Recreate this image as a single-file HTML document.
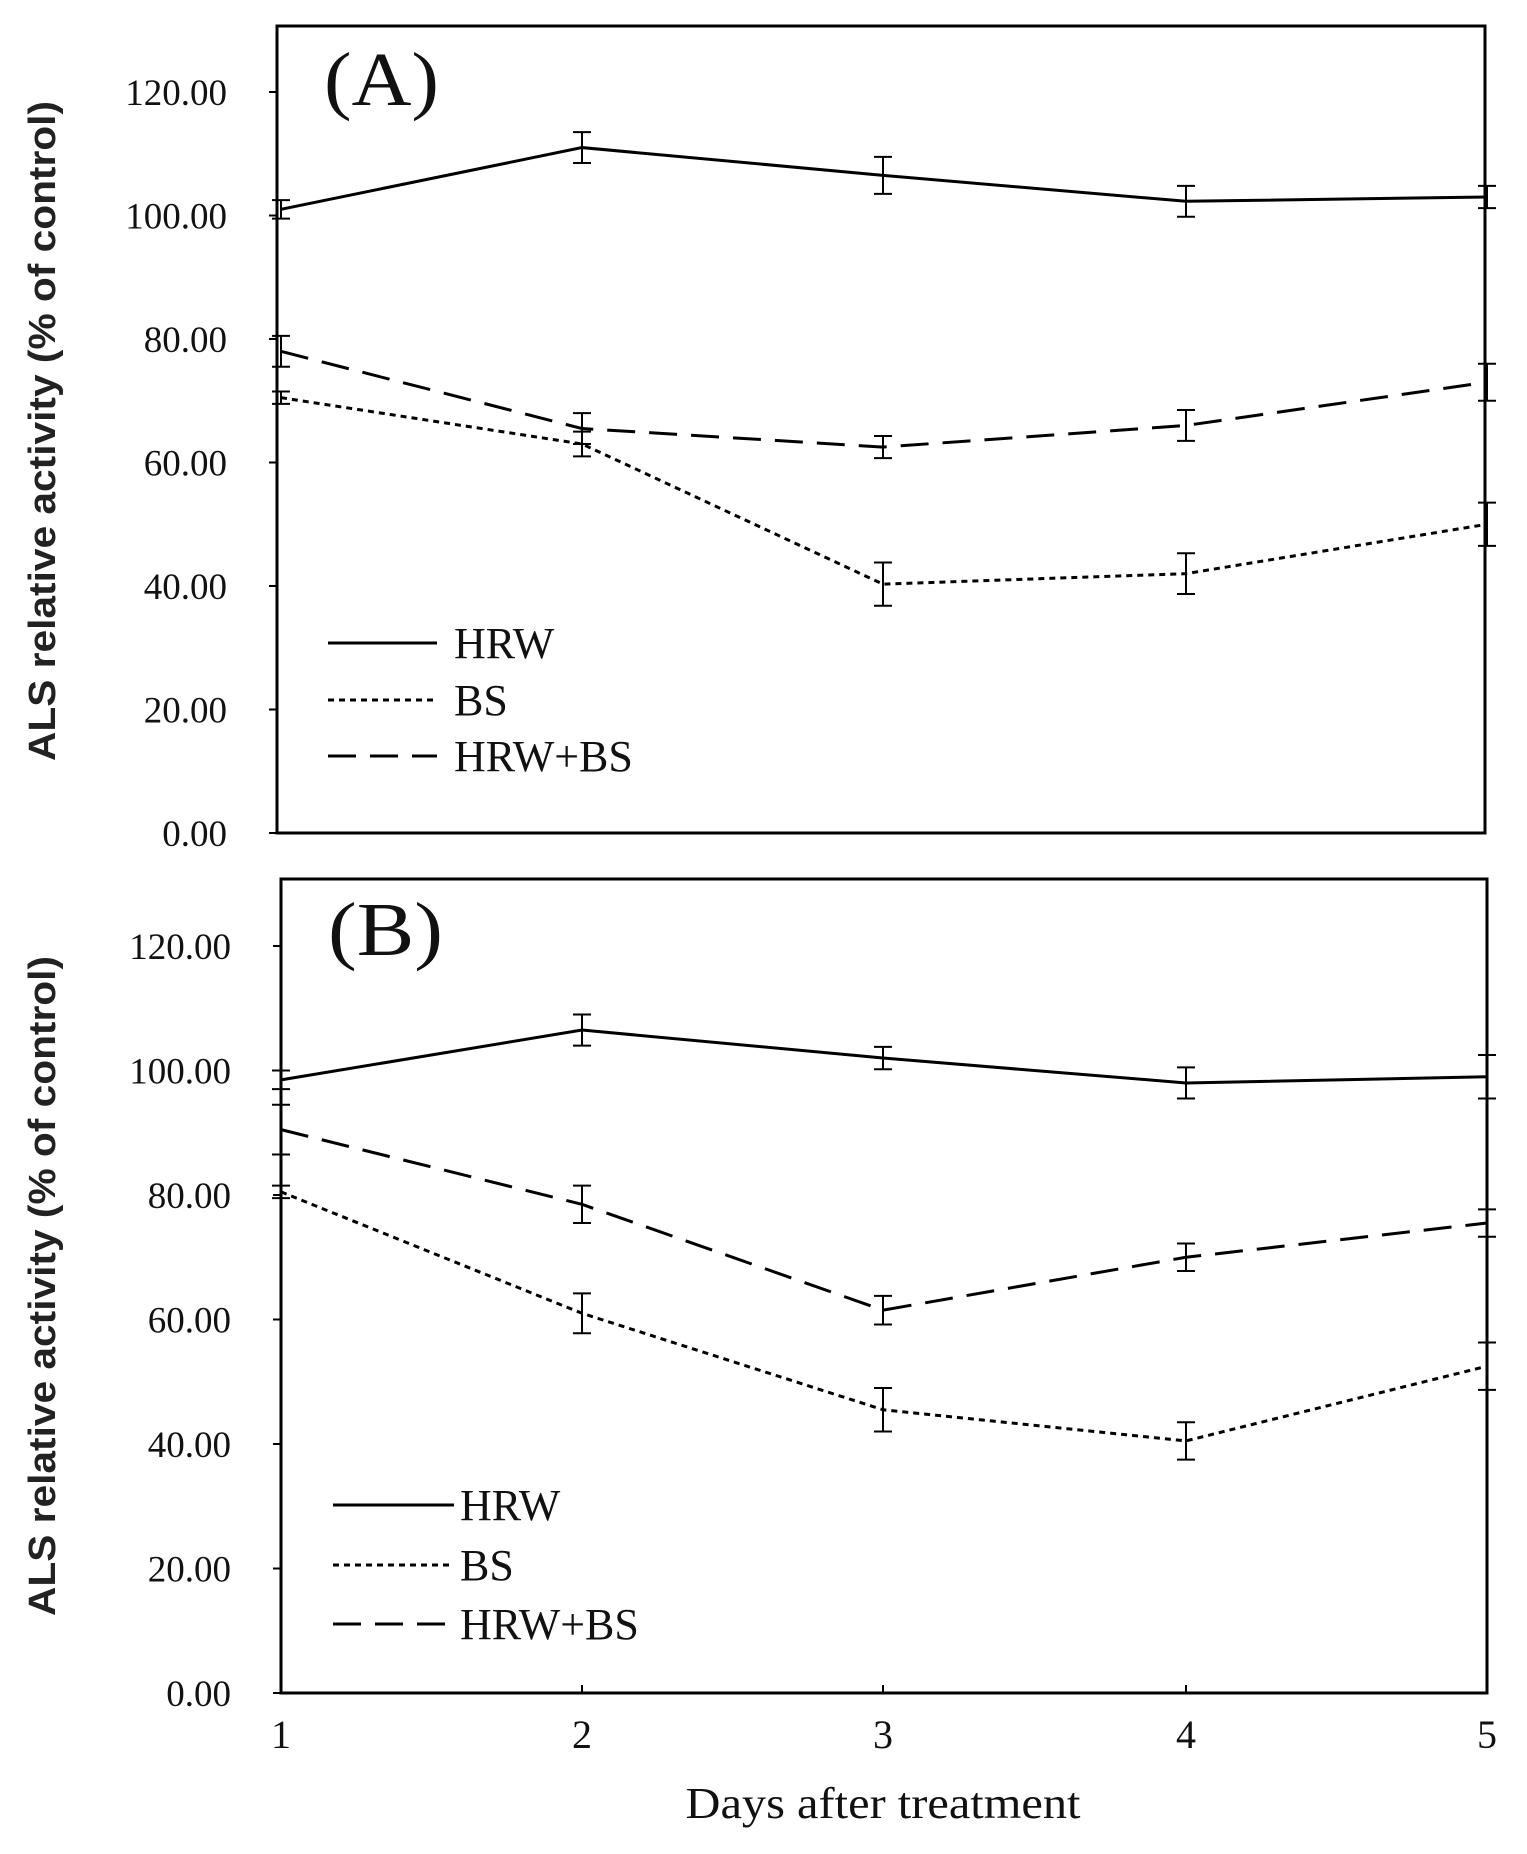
<!DOCTYPE html>
<html><head><meta charset="utf-8"><style>
html,body{margin:0;padding:0;background:#fff;}
svg{display:block;}
text{font-family:"Liberation Serif",serif;fill:#111;}
</style></head><body>
<svg id="s" width="1527" height="1854" xmlns="http://www.w3.org/2000/svg"></svg>
<script>
const s=document.getElementById('s');let h='';
const X=[281,582,883,1186,1487];
function panel(p){
 const {l,r,t,b,y0,per,lab,labY,data,leg,lx1,lx2,tx,ylab}=p;
 const Y=v=>y0-v/20*per;
 h+=`<rect x="${l}" y="${t}" width="${r-l}" height="${b-t}" fill="none" stroke="#000" stroke-width="3"/>`;
 for(let v=0;v<=120;v+=20){const y=Y(v);h+=`<line x1="${l-8}" y1="${y}" x2="${l}" y2="${y}" stroke="#000" stroke-width="2"/>`;
  h+=`<text x="${l-50}" y="${y+13}" font-size="37" text-anchor="end">${v.toFixed(2)}</text>`;}
 h+=`<text x="${l+47}" y="${labY}" font-size="76" textLength="115" lengthAdjust="spacingAndGlyphs">${lab}</text>`;
 h+=`<text transform="translate(${ylab[0]},${ylab[1]}) rotate(-90)" font-size="38" text-anchor="middle" textLength="660" lengthAdjust="spacingAndGlyphs" style="font-family:'Liberation Sans',sans-serif;font-weight:bold;fill:#222">ALS relative activity (% of control)</text>`;
 const st=['','stroke-dasharray="6,5"','stroke-dasharray="28,14"'];
 const names=['HRW','BS','HRW+BS'];
 data.forEach((d,i)=>{
  h+=`<polyline fill="none" stroke="#000" stroke-width="3" ${st[i]} points="${d.v.map((v,k)=>X[k]+','+Y(v)).join(' ')}"/>`;
  d.v.forEach((v,k)=>{const e=d.e[k],y1=Y(v+e),y2=Y(v-e),x=X[k];
   h+=`<line x1="${x}" y1="${y1}" x2="${x}" y2="${y2}" stroke="#000" stroke-width="2"/><line x1="${x-9}" y1="${y1}" x2="${x+9}" y2="${y1}" stroke="#000" stroke-width="2"/><line x1="${x-9}" y1="${y2}" x2="${x+9}" y2="${y2}" stroke="#000" stroke-width="2"/>`;});
  h+=`<line x1="${lx1}" y1="${leg[i]}" x2="${lx2}" y2="${leg[i]}" stroke="#000" stroke-width="3" ${st[i]}/>`;
  h+=`<text x="${tx}" y="${leg[i]+15}" font-size="44">${names[i]}</text>`;
 });
}
panel({l:277,r:1485,t:26,b:833,y0:833,per:123.5,lab:'(A)',labY:105,ylab:[55,431],
 data:[{v:[101,111,106.5,102.3,103],e:[1.5,2.5,3,2.5,1.8]},
       {v:[70.5,63,40.3,42,50],e:[1,2,3.5,3.3,3.5]},
       {v:[78,65.5,62.5,66,73],e:[2.5,2.5,1.8,2.5,3]}],
 leg:[643,700,756],lx1:328,lx2:437,tx:454});
panel({l:281,r:1487,t:879,b:1693,y0:1693,per:124.5,lab:'(B)',labY:955,ylab:[55,1286],
 data:[{v:[98.5,106.5,102,98,99],e:[1.5,2.5,1.8,2.5,3.5]},
       {v:[80.5,61,45.5,40.5,52.5],e:[1,3.2,3.5,3,3.8]},
       {v:[90.5,78.5,61.5,70,75.5],e:[4,3,2.3,2.2,2.2]}],
 leg:[1505,1565,1624],lx1:333,lx2:454,tx:460});
X.forEach((x,i)=>{h+=`<line x1="${x}" y1="1693" x2="${x}" y2="1685" stroke="#000" stroke-width="2"/><text x="${x}" y="1748" font-size="40" text-anchor="middle">${i+1}</text>`;});
h+=`<text x="883" y="1818" font-size="44" text-anchor="middle" textLength="395" lengthAdjust="spacingAndGlyphs">Days after treatment</text>`;
s.innerHTML=h;
</script>
</body></html>
